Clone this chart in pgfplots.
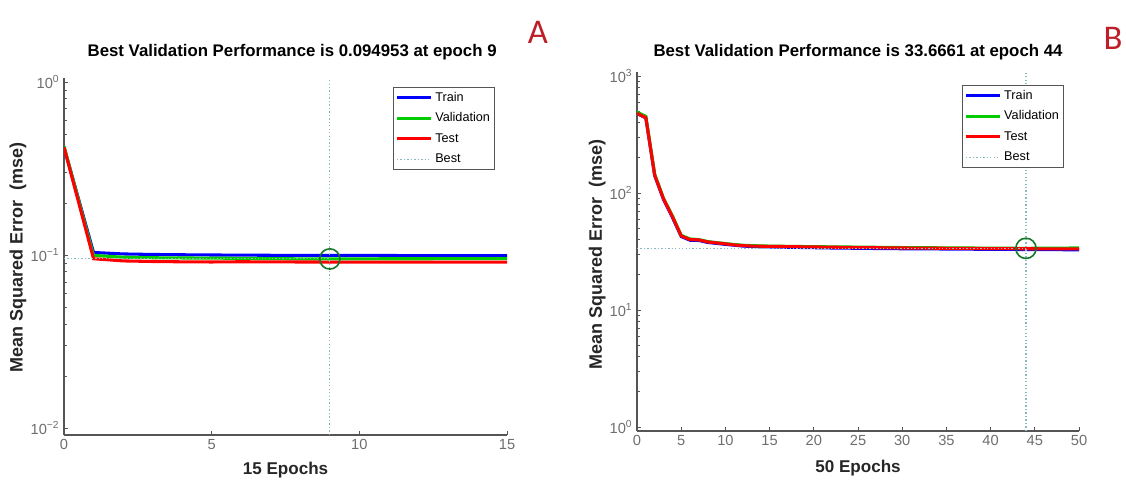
\documentclass[border=0pt]{standalone}
\usepackage{fontspec}
\setmainfont{Liberation Sans}
\newfontfamily\panelfont{Carlito}
\usepackage{pgfplots}
\pgfplotsset{compat=1.18}
\definecolor{trainc}{RGB}{0,0,255}
\definecolor{valc}{RGB}{0,204,0}
\definecolor{testc}{RGB}{255,0,0}
\definecolor{bestc}{RGB}{135,185,190}
\definecolor{circc}{RGB}{20,120,40}
\definecolor{axc}{RGB}{85,85,85}
\definecolor{tickc}{RGB}{110,110,110}
\definecolor{panelc}{RGB}{190,30,40}

\pgfplotsset{
  perf/.style={
    scale only axis,
    axis lines=left,
    axis line style={-, axc, line width=0.8pt},
    tick align=inside,
    tick style={axc, line width=0.5pt},
    major tick length=3pt,
    minor tick length=2pt,
    tick label style={font=\fontsize{11}{12}\selectfont, text=tickc},
    /pgf/number format/assume math mode=true,
    xlabel style={font=\bfseries\fontsize{12.8}{14}\selectfont, text=black!85},
    ylabel style={font=\bfseries\fontsize{13.5}{15}\selectfont, text=black!85},
    title style={font=\bfseries\fontsize{12.6}{14}\selectfont, anchor=center},
    legend cell align=left,
    legend image code/.code={\draw[##1] (0cm,0cm) -- (0.9cm,0cm);},
    legend style={font=\fontsize{9.5}{11}\selectfont, draw=axc, line width=0.6pt,
      inner xsep=1.5pt, inner ysep=1.5pt, row sep=3.2pt, anchor=north east},
  },
}
\tikzset{
  curve/.style={line width=2.3pt},
  bestline/.style={bestc, line width=0.8pt, dash pattern=on 1pt off 1.6pt},
}

\begin{document}
\begin{tikzpicture}
\path[use as bounding box] (0,0) rectangle (844.5pt,359.25pt);

% Panel A
\begin{semilogyaxis}[perf,
  at={(48pt,33pt)}, anchor=south west,
  width=332.25pt, height=267.75pt,
  xmin=0, xmax=15, ymin=0.00912, ymax=1.055,
  xtick={0,5,10,15},
  ytick={0.01,0.1,1},
  yticklabels={10\textsuperscript{−2},10\textsuperscript{−1},10\textsuperscript{0}},
  title={Best Validation Performance is 0.094953 at epoch 9},
  title style={at={(axis description cs:0.515,1)}, yshift=13.5pt},
  xlabel={15 Epochs},
  xlabel style={at={(axis description cs:0.5,-0.098)}, anchor=center},
  ylabel={Mean Squared Error~~(mse)},
  ylabel style={at={(axis description cs:-0.104,0.496)}, anchor=center},
  legend style={at={(0.973,0.975)}},
]
\addplot[curve, trainc] coordinates {
  (0,0.42)(1,0.1035)(2,0.1015)(3,0.1008)(4,0.1004)(5,0.1001)(6,0.0999)
  (7,0.0997)(8,0.0996)(9,0.0995)(10,0.0994)(11,0.0994)(12,0.0993)
  (13,0.0993)(14,0.0993)(15,0.0993)};
\addplot[curve, valc] coordinates {
  (0,0.425)(1,0.0995)(2,0.0972)(3,0.0965)(4,0.0962)(5,0.0960)(6,0.0957)
  (7,0.0954)(8,0.0951)(9,0.094953)(10,0.0951)(11,0.0952)(12,0.0952)
  (13,0.0953)(14,0.0953)(15,0.0953)};
\addplot[curve, testc] coordinates {
  (0,0.42)(1,0.0952)(2,0.0925)(3,0.0918)(4,0.0914)(5,0.0912)(6,0.0915)
  (7,0.0913)(8,0.0912)(9,0.0911)(10,0.0911)(11,0.0911)(12,0.0911)
  (13,0.0911)(14,0.0911)(15,0.0911)};
\addplot[bestline] coordinates {(9,0.00912)(9,1.055)};
\addplot[bestline, forget plot] coordinates {(0,0.094953)(9,0.094953)};
\addplot[only marks, mark=o, mark size=7.6pt, circc, line width=1.2pt, forget plot]
  coordinates {(9,0.094953)};
\legend{Train,Validation,Test,Best}
\end{semilogyaxis}

% Panel B
\begin{semilogyaxis}[perf,
  at={(477.75pt,36pt)}, anchor=south west,
  width=331.5pt, height=269.25pt,
  xmin=0, xmax=50, ymin=0.925, ymax=1082,
  xtick={0,5,...,50},
  ytick={1,10,100,1000},
  yticklabels={10\textsuperscript{0},10\textsuperscript{1},10\textsuperscript{2},10\textsuperscript{3}},
  title={Best Validation Performance is 33.6661 at epoch 44},
  title style={at={(axis description cs:0.5,1)}, yshift=9pt},
  xlabel={50 Epochs},
  xlabel style={at={(axis description cs:0.5,-0.103)}, anchor=center},
  ylabel={Mean Squared Error~~(mse)},
  ylabel style={at={(axis description cs:-0.09,0.493)}, anchor=center},
  legend style={at={(0.966,0.964)}},
]
\addplot[curve, trainc] coordinates {
  (0,478)(1,438)(2,141)(3,88)(4,62)(5,42.5)(6,39.5)(7,39.3)(8,37.8)(9,37.1)
  (10,36.4)(11,35.8)(12,35.2)(13,34.9)(14,34.7)(15,34.6)(16,34.5)(18,34.3)
  (20,34.1)(22,33.9)(25,33.7)(28,33.5)(30,33.4)(33,33.3)(36,33.2)(40,33.0)
  (44,32.9)(46,32.85)(50,32.7)};
\addplot[curve, valc] coordinates {
  (0,492)(1,452)(2,145)(3,90)(4,64)(5,43.5)(6,40.5)(7,40.0)(8,38.5)(9,37.7)
  (10,37.0)(11,36.3)(12,35.8)(13,35.5)(15,35.2)(20,34.8)(25,34.5)(30,34.2)
  (35,34.0)(40,33.8)(44,33.6661)(46,33.8)(50,33.9)};
\addplot[curve, testc] coordinates {
  (0,480)(1,440)(2,142)(3,89)(4,63)(5,43.0)(6,40.0)(7,39.8)(8,38.2)(9,37.5)
  (10,36.8)(11,36.0)(12,35.5)(13,35.2)(15,35.0)(20,34.6)(25,34.2)(30,33.9)
  (35,33.7)(40,33.5)(44,33.4)(50,33.3)};
\addplot[bestline] coordinates {(44,0.925)(44,1082)};
\addplot[bestline, forget plot] coordinates {(0,33.6661)(44,33.6661)};
\addplot[only marks, mark=o, mark size=7.6pt, circc, line width=1.2pt, forget plot]
  coordinates {(44,33.6661)};
\legend{Train,Validation,Test,Best}
\end{semilogyaxis}

\node[text=panelc, font=\panelfont\fontsize{26}{28}\selectfont] at (403.5pt,335.25pt) {A};
\node[text=panelc, font=\panelfont\fontsize{26}{28}\selectfont] at (834.75pt,330.75pt) {B};
\end{tikzpicture}
\end{document}
